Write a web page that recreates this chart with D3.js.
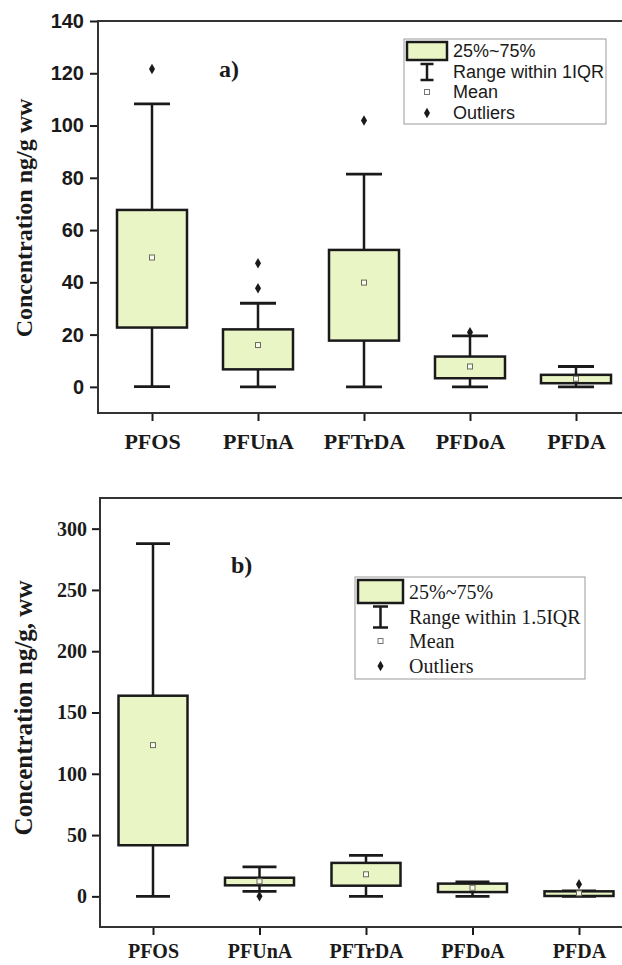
<!DOCTYPE html>
<html>
<head>
<meta charset="utf-8">
<script src="https://cdn.jsdelivr.net/npm/d3@7"></script>
<style>
  body { margin: 0; background: #fff; }
  svg { display: block; }
</style>
</head>
<body>
<div id="chart"></div>
<script>
// categories shared by both panels
var categories = ["PFOS", "PFUnA", "PFTrDA", "PFDoA", "PFDA"];

// panel a) values
var aWhiskLow = [0.1, 0, 0, 0, 0];
var aQ1 = [22.7, 6.7, 17.7, 3.3, 1.4];
var aQ3 = [67.7, 22, 52.4, 11.6, 4.6];
var aWhiskHigh = [108.3, 32, 81.4, 19.5, 7.8];
var aMean = [49.5, 16, 39.9, 7.8, 3.1];
var aOutliers = [[121.6], [47.3, 37.7], [101.9], [20.9], []];
var aTicks = [0, 20, 40, 60, 80, 100, 120, 140];

// panel b)
var bWhiskLow = [0, 4, 0, 0, 0];
var bQ1 = [41.7, 9, 8.7, 3.5, 0.3];
var bQ3 = [163.7, 15.2, 27.3, 10.4, 4.1];
var bWhiskHigh = [287.7, 24, 33.5, 11.7, 4.5];
var bMean = [123.4, 12.3, 18, 7, 2.5];
var bOutliers = [[], [0], [], [], [9.8]];
var bTicks = [0, 50, 100, 150, 200, 250, 300];

var legendA = ["25%~75%", "Range within 1IQR", "Mean", "Outliers"];
var legendB = ["25%~75%", "Range within 1.5IQR", "Mean", "Outliers"];

var boxFill = "#e9f5c4";
var ink = "#1a1a1a";

var svg = d3.select("#chart").append("svg")
    .attr("width", 622)
    .attr("height", 965);

function drawPanel(p) {
    var g = svg.append("g");
    var x = d3.scalePoint().domain(categories).range(p.xRange);
    var y = d3.scaleLinear().domain(p.yDomain).range(p.yRange);

    var data = categories.map((c, i) => ({
        cat: c, lo: p.lo[i], q1: p.q1[i], q3: p.q3[i], hi: p.hi[i], mean: p.mean[i], out: p.out[i]
    }));

    // y axis
    var yAxis = d3.axisLeft(y).tickValues(p.ticks).tickSize(8).tickPadding(p.tickPad);
    var ya = g.append("g")
        .attr("transform", "translate(" + p.left + ",0)")
        .call(yAxis);
    ya.select(".domain").remove();
    ya.selectAll(".tick line").attr("stroke", ink).attr("stroke-width", 2);
    ya.selectAll(".tick text")
        .attr("fill", ink)
        .style("font-family", p.tickFont)
        .style("font-weight", "bold")
        .style("font-size", p.tickSize + "px");

    // x axis
    var xAxis = d3.axisBottom(x).tickSize(8).tickPadding(p.catPad);
    var xa = g.append("g")
        .attr("transform", "translate(0," + p.yRange[0] + ")")
        .call(xAxis);
    xa.select(".domain").remove();
    xa.selectAll(".tick line").attr("stroke", ink).attr("stroke-width", 2);
    xa.selectAll(".tick text")
        .attr("fill", ink)
        .style("font-family", "'Liberation Serif', 'Times New Roman', serif")
        .style("font-weight", "bold")
        .style("font-size", p.catSize + "px");

    // frame: left, top, bottom
    g.append("path")
        .attr("d", "M622," + p.yRange[1] + "H" + p.left + "V" + p.yRange[0] + "H622")
        .attr("fill", "none")
        .attr("stroke", "#333")
        .attr("stroke-width", 2);

    var box = g.selectAll(".box").data(data).enter().append("g").attr("class", "box");

    box.append("line")
        .attr("x1", d => x(d.cat)).attr("x2", d => x(d.cat))
        .attr("y1", d => y(d.lo)).attr("y2", d => y(d.hi))
        .attr("stroke", ink).attr("stroke-width", 2.5);
    box.append("line")
        .attr("x1", d => x(d.cat) - p.capW / 2).attr("x2", d => x(d.cat) + p.capW / 2)
        .attr("y1", d => y(d.hi)).attr("y2", d => y(d.hi))
        .attr("stroke", ink).attr("stroke-width", 2.8);
    box.append("line")
        .attr("x1", d => x(d.cat) - p.capW / 2).attr("x2", d => x(d.cat) + p.capW / 2)
        .attr("y1", d => y(d.lo)).attr("y2", d => y(d.lo))
        .attr("stroke", ink).attr("stroke-width", 2.8);
    box.append("rect")
        .attr("x", d => x(d.cat) - p.boxW / 2)
        .attr("width", p.boxW)
        .attr("y", d => y(d.q3))
        .attr("height", d => y(d.q1) - y(d.q3))
        .attr("fill", boxFill)
        .attr("stroke", ink)
        .attr("stroke-width", 2.5);
    box.append("rect")
        .attr("x", d => x(d.cat) - 2.5)
        .attr("y", d => y(d.mean) - 2.5)
        .attr("width", 5).attr("height", 5)
        .attr("fill", "#fafaf0")
        .attr("stroke", "#6b6b5a")
        .attr("stroke-width", 1);

    var diamond = d3.symbol().type(d3.symbolDiamond).size(32);
    box.each(function (d) {
        d3.select(this).selectAll(".out").data(d.out).enter().append("path")
            .attr("class", "out")
            .attr("d", diamond)
            .attr("transform", v => "translate(" + x(d.cat) + "," + y(v) + ")")
            .attr("fill", ink);
    });

    // y title
    g.append("text")
        .attr("transform", "translate(" + p.titleX + "," + p.titleY + ") rotate(-90)")
        .attr("text-anchor", "middle")
        .attr("fill", ink)
        .style("font-family", "'Liberation Serif', 'Times New Roman', serif")
        .style("font-weight", "bold")
        .style("font-size", p.titleSize + "px")
        .text(p.title);

    // panel tag
    g.append("text")
        .attr("x", p.tagX).attr("y", p.tagY)
        .attr("fill", ink)
        .style("font-family", "'Liberation Serif', 'Times New Roman', serif")
        .style("font-weight", "bold")
        .style("font-size", "24px")
        .text(p.tag);

    // legend
    var L = p.legend;
    var lg = g.append("g").attr("transform", "translate(" + L.x + "," + L.y + ")");
    lg.append("rect")
        .attr("width", L.w).attr("height", L.h)
        .attr("fill", "#fff").attr("stroke", "#9a9a9a").attr("stroke-width", 1);
    lg.append("rect")
        .attr("x", L.swX).attr("y", L.swY).attr("width", L.swW).attr("height", L.swH)
        .attr("fill", boxFill).attr("stroke", ink).attr("stroke-width", 2.5);
    var cx = L.swX + L.swW / 2;
    var r1 = L.rows[1];
    lg.append("path")
        .attr("d", "M" + (cx - L.capW / 2) + "," + (r1 - L.iH / 2) + "H" + (cx + L.capW / 2) +
            "M" + cx + "," + (r1 - L.iH / 2) + "V" + (r1 + L.iH / 2) +
            "M" + (cx - L.capW / 2) + "," + (r1 + L.iH / 2) + "H" + (cx + L.capW / 2))
        .attr("fill", "none").attr("stroke", ink).attr("stroke-width", 2.5);
    lg.append("rect")
        .attr("x", cx - 2.5).attr("y", L.rows[2] - 2.5).attr("width", 5).attr("height", 5)
        .attr("fill", "#fff").attr("stroke", "#777").attr("stroke-width", 1);
    lg.append("path")
        .attr("d", diamond)
        .attr("transform", "translate(" + cx + "," + L.rows[3] + ")")
        .attr("fill", ink);
    lg.selectAll(".ltext").data(L.labels).enter().append("text")
        .attr("class", "ltext")
        .attr("x", L.textX)
        .attr("y", (d, i) => L.rows[i])
        .attr("dy", "0.35em")
        .attr("fill", ink)
        .style("font-family", L.font)
        .style("font-size", L.fontSize + "px")
        .text(d => d);
}

drawPanel({
    xRange: [152, 576], yDomain: [-10, 140], yRange: [413, 21], left: 98,
    lo: aWhiskLow, q1: aQ1, q3: aQ3, hi: aWhiskHigh, mean: aMean, out: aOutliers,
    ticks: aTicks, tickFont: "'Liberation Sans', Arial, sans-serif", tickSize: 20, tickPad: 6,
    catSize: 22, catPad: 12,
    boxW: 70, capW: 36,
    title: "Concentration ng/g ww", titleX: 32, titleY: 218, titleSize: 24,
    tag: "a)", tagX: 219, tagY: 77,
    legend: {
        x: 404, y: 39, w: 202, h: 85, swX: 3, swY: 3, swW: 40, swH: 18,
        capW: 13, iH: 16, rows: [12, 33, 53, 74], textX: 49,
        labels: legendA, font: "'Liberation Sans', Arial, sans-serif", fontSize: 18
    }
});

drawPanel({
    xRange: [153, 579], yDomain: [-25, 325], yRange: [927, 498], left: 100,
    lo: bWhiskLow, q1: bQ1, q3: bQ3, hi: bWhiskHigh, mean: bMean, out: bOutliers,
    ticks: bTicks, tickFont: "'Liberation Serif', 'Times New Roman', serif", tickSize: 20, tickPad: 5,
    catSize: 20, catPad: 9,
    boxW: 69, capW: 34,
    title: "Concentration ng/g, ww", titleX: 32, titleY: 708, titleSize: 25,
    tag: "b)", tagX: 231, tagY: 573,
    legend: {
        x: 355, y: 577, w: 230, h: 102, swX: 3, swY: 3, swW: 45, swH: 23,
        capW: 15, iH: 21, rows: [15, 40, 64, 89], textX: 54,
        labels: legendB, font: "'Liberation Serif', 'Times New Roman', serif", fontSize: 20
    }
});
</script>
</body>
</html>
